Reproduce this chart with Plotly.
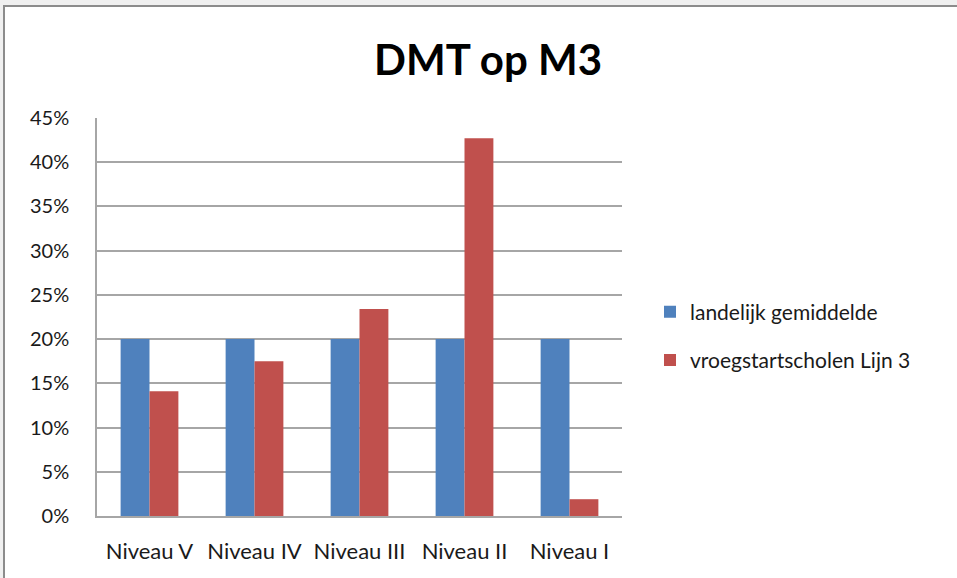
import plotly.graph_objects as go

categories = ["Niveau V", "Niveau IV", "Niveau III", "Niveau II", "Niveau I"]
landelijk = [0.20, 0.20, 0.20, 0.20, 0.20]
vroegstart = [0.141, 0.175, 0.234, 0.427, 0.019]
series_names = ["landelijk gemiddelde", "vroegstartscholen Lijn 3"]
y_ticks = [0, 0.05, 0.10, 0.15, 0.20, 0.25, 0.30, 0.35, 0.40, 0.45]
y_tick_labels = ["0%", "5%", "10%", "15%", "20%", "25%", "30%", "35%", "40%", "45%"]

FONT = "Lato"

W, H = 957, 578
L, T = 97, 118
R = W - 622
B = H - 516
pw, ph = W - L - R, H - T - B

def px_x(x):
    return (x - L) / pw

def px_y(y):
    return (516 - y) / ph

fig = go.Figure()
fig.add_trace(go.Bar(x=categories, y=landelijk, name=series_names[0], legendgroup="a",
                     marker=dict(color="#4f81bd", line=dict(width=0))))
fig.add_trace(go.Bar(x=categories, y=vroegstart, name=series_names[1], legendgroup="b",
                     marker=dict(color="#c0504d", line=dict(width=0))))

fig.update_layout(
    width=W, height=H,
    margin=dict(l=L, r=R, t=T, b=B),
    paper_bgcolor="#f0f0f0",
    plot_bgcolor="white",
    barmode="group",
    bargap=0.45,
    bargroupgap=0,
    title=dict(text="<b>DMT op M3</b>", x=488 / W, xanchor="center",
               y=1 - 60 / H, yanchor="middle",
               font=dict(family=FONT, size=42, color="black")),
    font=dict(family=FONT, size=21, color="#1a1a1a"),
    legend=dict(x=px_x(650), xanchor="left", y=px_y(336), yanchor="middle",
                font=dict(family=FONT, size=21, color="#1a1a1a"),
                bgcolor="rgba(0,0,0,0)", tracegroupgap=18, itemwidth=30),
    showlegend=True,
    shapes=[dict(type="rect", xref="paper", yref="paper", layer="below",
                 x0=px_x(4), x1=px_x(975),
                 y0=px_y(600), y1=px_y(6),
                 fillcolor="white", line=dict(color="#8c8c8c", width=2))],
)
fig.update_yaxes(range=[0, 0.45], tickvals=y_ticks, ticktext=y_tick_labels,
                 showgrid=True, gridcolor="#a6a6a6", gridwidth=1.5,
                 showline=True, linecolor="#a6a6a6", linewidth=1.5,
                 ticks="outside", ticklen=22, tickcolor="rgba(0,0,0,0)",
                 zeroline=False, tickfont=dict(size=20))
fig.update_xaxes(showline=True, linecolor="#a6a6a6", linewidth=1.5,
                 ticks="outside", ticklen=15, tickcolor="rgba(0,0,0,0)",
                 tickfont=dict(size=22))

fig.write_html("out.html", config={"displayModeBar": False},
               post_script="document.body.style.margin='0';document.body.style.background='#f0f0f0';")
